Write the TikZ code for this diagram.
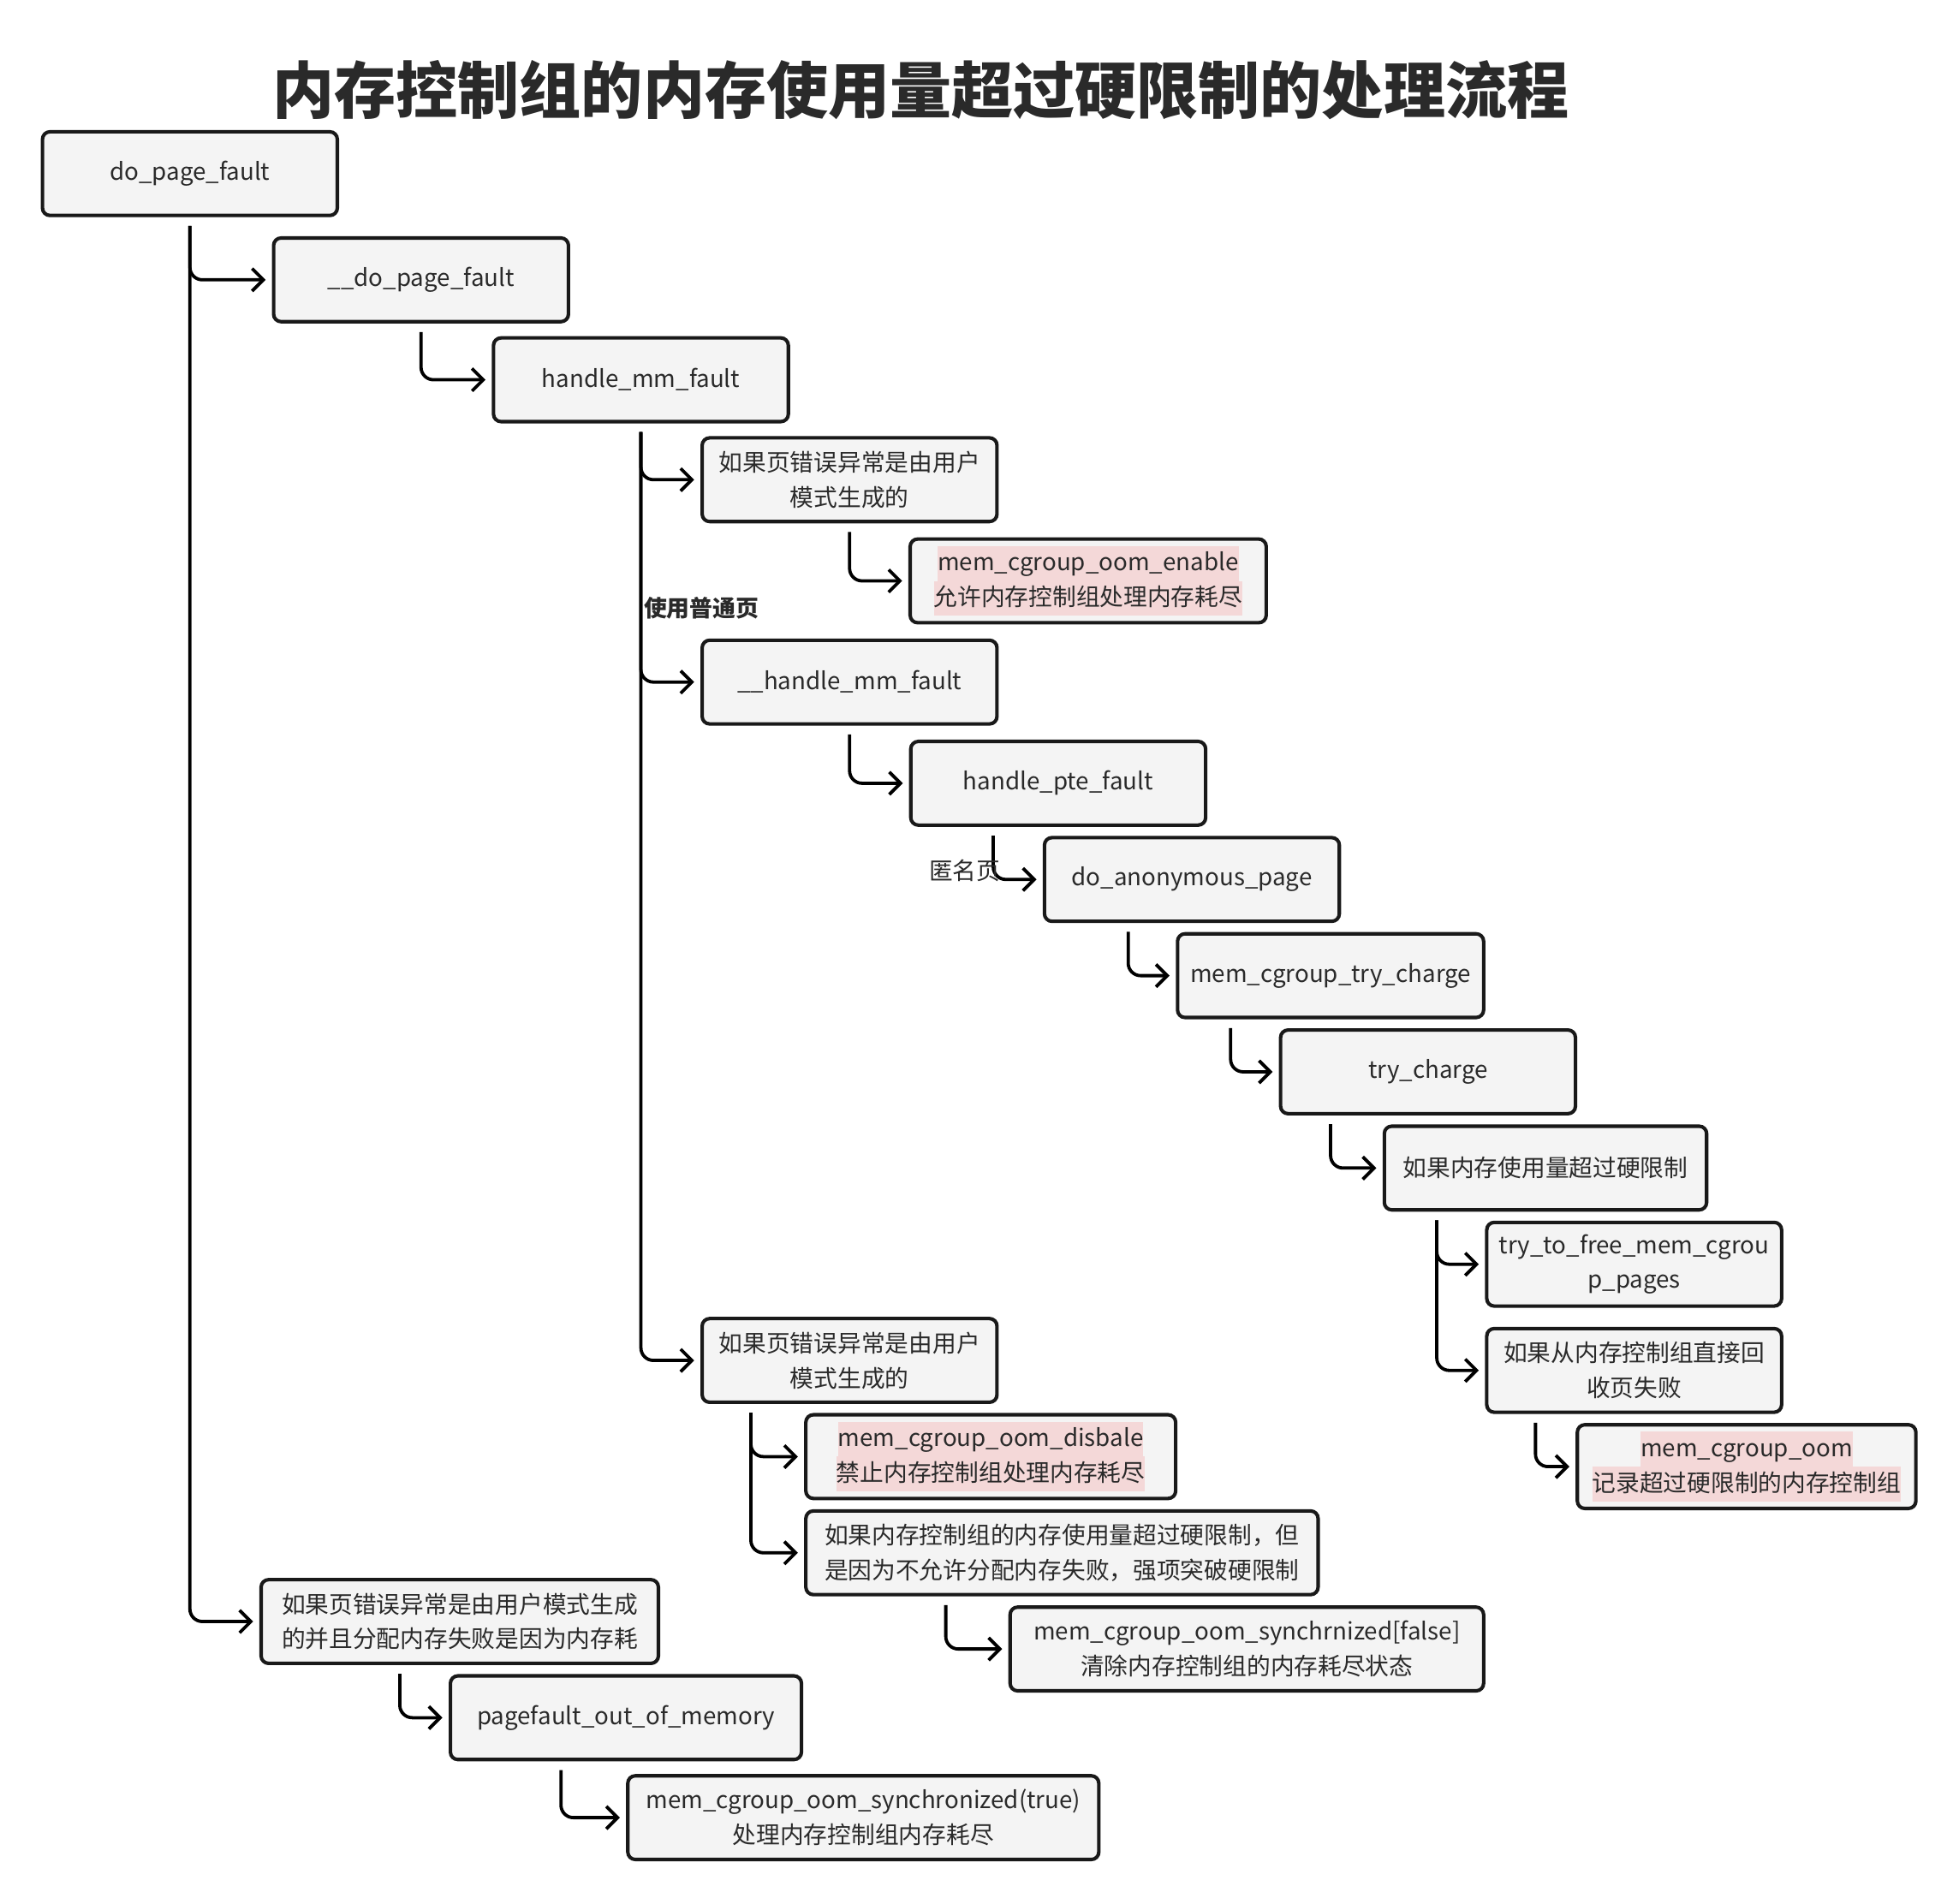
\documentclass[tikz,border=0pt]{standalone}
\usepackage{fontspec}
\setmainfont{Noto Sans CJK SC}
\usepackage{xcolor}
\usetikzlibrary{arrows.meta, calc}

\definecolor{boxgray}{HTML}{F4F4F4}
\definecolor{hlpink}{HTML}{F4D8D8}
\definecolor{inkdark}{HTML}{2A2A2A}
\setlength{\fboxsep}{0pt}
\newcommand{\pinkline}[1]{\colorbox{hlpink}{\rule[-4pt]{0pt}{14pt}#1}}

\begin{document}
\begin{tikzpicture}[x=0.5pt, y=-0.5pt,
    fn/.style={draw=black!90, line width=1.4pt, rounded corners=3pt, fill=boxgray,
        text=inkdark, align=center, minimum height=33.5pt, minimum width=118pt,
        inner sep=2pt, font=\fontsize{9.5}{14}\selectfont},
    link/.style={line width=1.3pt, rounded corners=5pt, shorten >=2.5pt,
        -{Straight Barb[length=4.5pt, width=9pt, line width=1.3pt]}},
    tag/.style={text=inkdark, inner sep=0pt, font=\fontsize{9.5}{12}\selectfont}]
\useasboundingbox (0,0) rectangle (1568,1524);

% Title
\node[text=inkdark, font=\fontsize{24.7}{30}\selectfont\bfseries] (title) at (737,72)
    {内存控制组的内存使用量超过硬限制的处理流程};

% Call chain
\node[fn] (dpf) at (152,139) {do\_page\_fault};
\node[fn] (ddpf) at (337,224) {\_\_do\_page\_fault};
\node[fn] (hmm) at (513,304) {handle\_mm\_fault};
\node[fn] (usrA) at (680,384) {如果页错误异常是由用户\\模式生成的};
\node[fn, minimum width=142.5pt] (oomon) at (871,465)
    {\pinkline{mem\_cgroup\_oom\_enable}\\\pinkline{允许内存控制组处理内存耗尽}};
\node[fn] (hhmm) at (680,546) {\_\_handle\_mm\_fault};
\node[fn] (hpte) at (847,627) {handle\_pte\_fault};
\node[fn] (anon) at (954,704) {do\_anonymous\_page};
\node[fn, minimum width=122.5pt] (trych) at (1065,781) {mem\_cgroup\_try\_charge};
\node[fn] (tc) at (1143,858) {try\_charge};
\node[fn, minimum width=129pt] (over) at (1237,935) {如果内存使用量超过硬限制};
\node[fn] (tofree) at (1308,1012) {try\_to\_free\_mem\_cgrou\\p\_pages};
\node[fn] (nofree) at (1308,1097) {如果从内存控制组直接回\\收页失败};
\node[fn, minimum width=135.5pt] (oom) at (1398,1174)
    {\pinkline{mem\_cgroup\_oom}\\\pinkline{记录超过硬限制的内存控制组}};

% Leaving the fault handler
\node[fn] (usrB) at (680,1089) {如果页错误异常是由用户\\模式生成的};
\node[fn, minimum width=148pt] (oomoff) at (793,1166)
    {\pinkline{mem\_cgroup\_oom\_disbale}\\\pinkline{禁止内存控制组处理内存耗尽}};
\node[fn, minimum width=205pt] (force) at (850,1243)
    {如果内存控制组的内存使用量超过硬限制，但\\是因为不允许分配内存失败，强项突破硬限制};
\node[fn, minimum width=189.5pt] (syncoff) at (998,1320)
    {mem\_cgroup\_oom\_synchrnized[false]\\清除内存控制组的内存耗尽状态};

% Out of memory
\node[fn, minimum width=159pt] (usrC) at (368,1298)
    {如果页错误异常是由用户模式生成\\的并且分配内存失败是因为内存耗};
\node[fn, minimum width=140.5pt] (pfoom) at (501,1375) {pagefault\_out\_of\_memory};
\node[fn, minimum width=188.5pt] (syncon) at (691,1455)
    {mem\_cgroup\_oom\_synchronized(true)\\处理内存控制组内存耗尽};

% Connectors
\foreach \from/\dx/\to in {dpf/0/ddpf, dpf/0/usrC, ddpf/0/hmm, hmm/0/usrA,
    hmm/0/hhmm, hmm/0/usrB, usrA/0/oomon, hhmm/0/hpte, hpte/-52/anon,
    anon/-51/trych, trych/-80/tc, tc/-78/over, over/-87/tofree, over/-87/nofree,
    nofree/-79/oom, usrB/-79/oomoff, usrB/-79/force, force/-93/syncoff,
    usrC/-48/pfoom, pfoom/-52/syncon} {
    \draw[link] ($(\from.south)+(\dx,7)$) |- (\to.west);
}

% Branch labels
\node[tag, anchor=west, font=\fontsize{9.2}{12}\selectfont\bfseries] (plain) at (515,487) {使用普通页};
\node[tag, anchor=east] (anonpg) at (801,697) {匿名页};
\end{tikzpicture}
\end{document}
